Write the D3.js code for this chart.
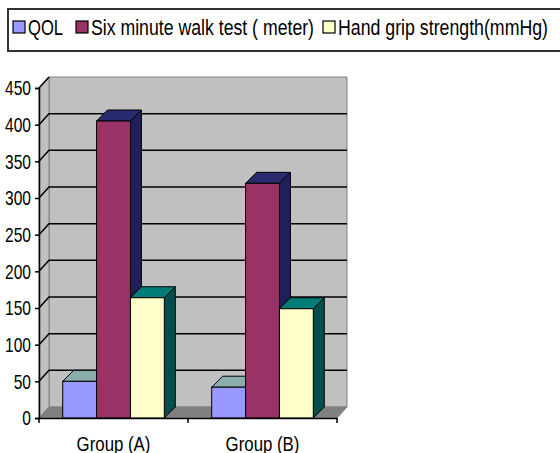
<!DOCTYPE html>
<html lang="en">
<head>
<meta charset="UTF-8">
<title>3D Column Chart</title>
<script src="https://d3js.org/d3.v7.min.js"></script>
<style>
    body { margin: 0; background: #fff; }
    text { font-family: "Liberation Sans Narrow", "Arial Narrow", "Liberation Sans", sans-serif; fill: #000; }
</style>
</head>
<body>
<div id="chart"></div>
<script>
    // Data
    var groups = ["Group (A)", "Group (B)"];
    var seriesNames = ["QOL", "Six minute walk test ( meter)", "Hand grip strength(mmHg)"];
    var qol = [50, 42];
    var walk = [405, 320];
    var grip = [164, 149];
    var yTicks = [0, 50, 100, 150, 200, 250, 300, 350, 400, 450];

    var values = [qol, walk, grip];
    // front, top, side colours per series
    var colors = [
        { front: "#9999ff", top: "#8caeab", side: "#6a8c8a" },
        { front: "#993366", top: "#2a2a6e", side: "#1f1f5a" },
        { front: "#ffffcc", top: "#007c76", side: "#004f4c" }
    ];

    var W = 560, H = 453;
    var plotLeft = 39, plotRight = 337, plotBottom = 418, plotTop = 88;
    var dx = 10, dy = -11;      // wall depth
    var bdx = 11, bdy = -11;    // bar depth

    var svg = d3.select("#chart").append("svg")
        .attr("width", W).attr("height", H);

    svg.append("rect").attr("width", W).attr("height", H).attr("fill", "#fff");

    var x = d3.scaleBand().domain(groups).range([plotLeft, plotRight]);
    var xs = d3.scaleBand().domain(seriesNames).range([0, x.bandwidth()]).paddingOuter(0.7);
    var y = d3.scaleLinear().domain([0, 450]).range([plotBottom, plotTop]);

    var pts = function (a) { return a.map(function (p) { return p.join(","); }).join(" "); };

    // squeeze text horizontally (no narrow font installed)
    function narrow(sel, f) {
        sel.each(function () {
            var w = this.getComputedTextLength();
            d3.select(this).attr("textLength", w * f).attr("lengthAdjust", "spacingAndGlyphs");
        });
    }

    // walls and floor
    svg.append("polygon")
        .attr("points", pts([[plotLeft + dx, y(450) + dy], [plotRight + dx, y(450) + dy], [plotRight + dx, y(0) + dy], [plotLeft + dx, y(0) + dy]]))
        .attr("fill", "#c0c0c0").attr("stroke", "#808080");
    svg.append("polygon")
        .attr("points", pts([[plotLeft, y(450)], [plotLeft + dx, y(450) + dy], [plotLeft + dx, y(0) + dy], [plotLeft, y(0)]]))
        .attr("fill", "#c0c0c0").attr("stroke", "#808080");
    svg.append("polygon")
        .attr("points", pts([[plotLeft, y(0)], [plotRight, y(0)], [plotRight + dx, y(0) + dy], [plotLeft + dx, y(0) + dy]]))
        .attr("fill", "#808080").attr("stroke", "#808080");

    // gridlines
    svg.append("g").selectAll("polyline")
        .data(yTicks.filter(function (t) { return t > 0; }))
        .enter().append("polyline")
        .attr("fill", "none")
        .attr("stroke", "#000")
        .attr("stroke-width", 1.5)
        .attr("points", function (t) {
            var pp = [[plotLeft, y(t)], [plotLeft + dx, y(t) + dy]];
            if (t < 450) pp.push([plotRight + dx, y(t) + dy]);
            return pts(pp);
        });

    // bars
    groups.forEach(function (g, gi) {
        var gg = svg.append("g");
        seriesNames.forEach(function (s, si) {
            var v = values[si][gi];
            var x0 = x(g) + xs(s), x1 = x0 + xs.bandwidth();
            var y0 = y(0), y1 = y(v);
            var c = colors[si];
            gg.append("polygon")
                .attr("points", pts([[x1, y1], [x1 + bdx, y1 + bdy], [x1 + bdx, y0 + bdy], [x1, y0]]))
                .attr("fill", c.side).attr("stroke", "#000").attr("stroke-width", 1);
            gg.append("polygon")
                .attr("points", pts([[x0, y1], [x0 + bdx, y1 + bdy], [x1 + bdx, y1 + bdy], [x1, y1]]))
                .attr("fill", c.top).attr("stroke", "#000").attr("stroke-width", 1);
            gg.append("rect")
                .attr("x", x0).attr("y", y1)
                .attr("width", x1 - x0).attr("height", y0 - y1)
                .attr("fill", c.front).attr("stroke", "#000").attr("stroke-width", 1);
        });
    });

    // y axis
    var yAxis = svg.append("g")
        .attr("transform", "translate(" + plotLeft + ",0)")
        .call(d3.axisLeft(y).tickValues(yTicks).tickSize(4).tickPadding(4));
    yAxis.select(".domain").attr("stroke", "#000").attr("stroke-width", 1.5);
    yAxis.selectAll(".tick line").attr("stroke-width", 1.5);
    yAxis.selectAll("text").style("font-size", "21px").call(narrow, 0.74);

    // x axis
    var xAxis = svg.append("g")
        .attr("transform", "translate(0," + plotBottom + ")")
        .call(d3.axisBottom(x).tickSize(0).tickPadding(15));
    xAxis.select(".domain").attr("stroke", "#000").attr("stroke-width", 1.5);
    xAxis.selectAll("text").style("font-size", "21px").attr("dy", "0.85em").call(narrow, 0.8);
    xAxis.selectAll(".edge")
        .data([plotLeft, plotLeft + x.bandwidth(), plotRight])
        .enter().append("line")
        .attr("x1", function (d) { return d; }).attr("x2", function (d) { return d; })
        .attr("y1", 0).attr("y2", 5)
        .attr("stroke", "#000").attr("stroke-width", 1.5);

    // legend
    var legend = svg.append("g");
    legend.append("rect")
        .attr("x", 8).attr("y", 9).attr("width", 560).attr("height", 42)
        .attr("fill", "#fff").attr("stroke", "#333").attr("stroke-width", 2);
    var legX = [13, 76, 323];
    var legW = [35, 223, 210];
    seriesNames.forEach(function (s, i) {
        legend.append("rect")
            .attr("x", legX[i]).attr("y", 21).attr("width", 12).attr("height", 12)
            .attr("fill", colors[i].front).attr("stroke", "#000").attr("stroke-width", 1.2);
        legend.append("text")
            .attr("x", legX[i] + 15).attr("y", 35)
            .style("font-size", "22px")
            .attr("textLength", legW[i]).attr("lengthAdjust", "spacingAndGlyphs")
            .text(s);
    });
</script>
</body>
</html>
